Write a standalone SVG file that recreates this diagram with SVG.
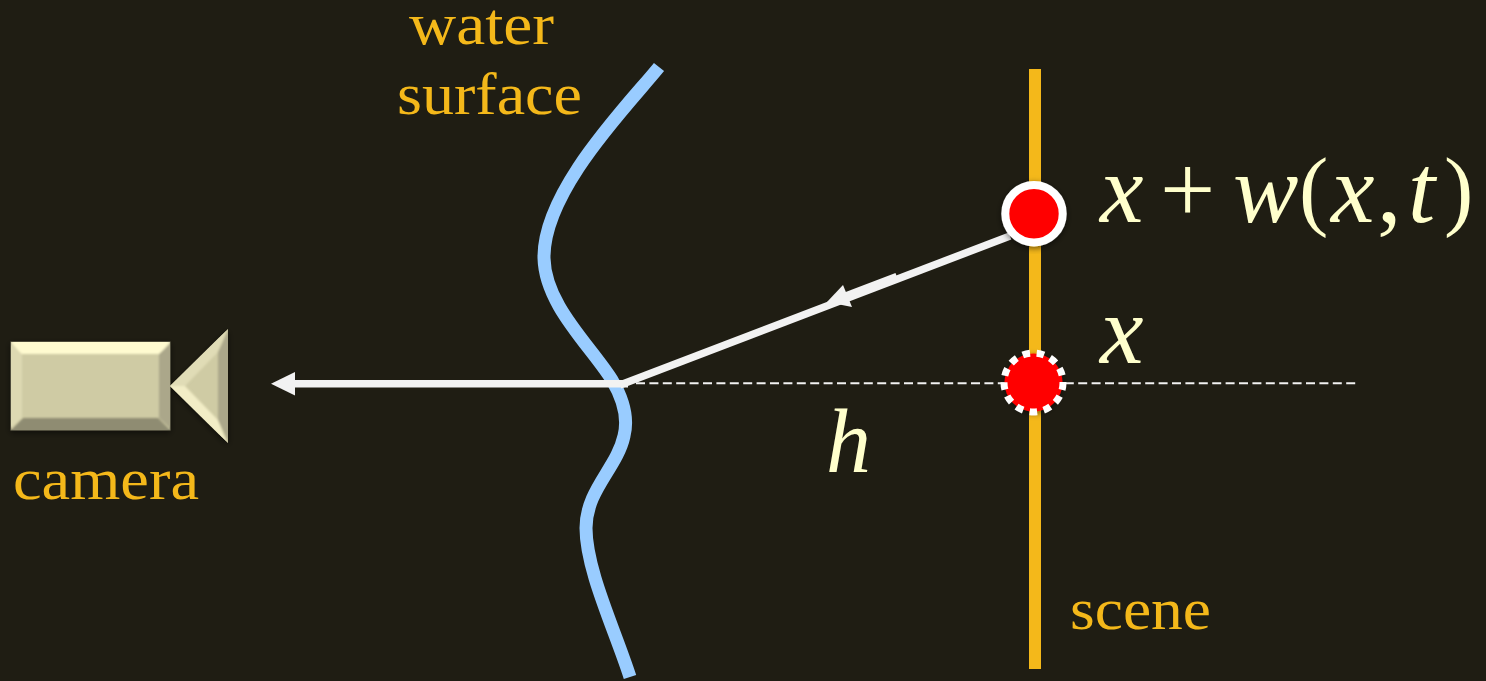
<svg xmlns="http://www.w3.org/2000/svg" width="1486" height="681" viewBox="0 0 1486 681">
<defs>
<style>
.lbl{font-family:"Liberation Serif","DejaVu Serif",serif;font-size:59px;fill:#F4B81A}
.math{font-family:"Liberation Serif","Times New Roman",serif;font-style:italic;fill:#FFFFCC;font-size:98px}
.up{font-style:normal}
.par{font-style:normal;font-size:88px}
.ray{stroke:#F2F2F2;fill:none}
</style>
<filter id="sh" x="-20%" y="-20%" width="140%" height="140%"><feDropShadow dx="0" dy="2" stdDeviation="3" flood-color="#000" flood-opacity=".55"/></filter>
<filter id="soft" x="-10%" y="-10%" width="120%" height="120%"><feGaussianBlur stdDeviation="1.3"/></filter>
<clipPath id="boxclip"><rect x="11" y="342" width="159" height="88"/></clipPath>
<clipPath id="triclip"><polygon points="170,386 228,329 228,443"/></clipPath>
</defs>
<rect width="1486" height="681" fill="#1F1D13"/>
<g id="scene"><rect x="1029" y="69" width="12" height="600" fill="#F4B81A"/><text class="lbl" x="1070" y="629" textLength="141" lengthAdjust="spacingAndGlyphs">scene</text></g>
<g id="water"><path d="M659 67C630 103 543 190 544 258C545 305 590 345 612 380C625 402 628 420 624 436C617 468 586 490 586 528C586 570 615 630 630 677" fill="none" stroke="#99CCFF" stroke-width="13"/>
<text class="lbl" x="409" y="44" textLength="145" lengthAdjust="spacingAndGlyphs">water</text><text class="lbl" x="397" y="114" textLength="185" lengthAdjust="spacingAndGlyphs">surface</text></g>
<g id="camera"><g filter="url(#sh)"><rect x="11" y="342" width="159" height="88" fill="#CFCBA4" stroke="#77755F" stroke-width="1"/>
<g clip-path="url(#boxclip)"><g filter="url(#soft)">
<polygon points="9,340 172,340 160,354 21,354" fill="#FFFBD0"/><polygon points="9,432 172,432 158,418 23,418" fill="#8F8C72"/><polygon points="9,342 22,354 22,418 9,430" fill="#DDD9B2"/><polygon points="172,342 159,354 159,418 172,430" fill="#ABA78A"/></g></g>
<polygon points="170,386 228,329 228,443" fill="#CFCBA4"/>
<g clip-path="url(#triclip)"><g filter="url(#soft)">
<polygon points="167,386 228,326 218,352 185,386" fill="#E0DCB6"/><polygon points="167,386 228,446 218,420 185,386" fill="#F2EDC6"/><polygon points="230,327 230,445 218,420 218,352" fill="#ABA78A"/></g></g></g>
<text class="lbl" x="13" y="499" textLength="186" lengthAdjust="spacingAndGlyphs">camera</text></g>
<g id="connectors">
<path d="M636 383.300H1356" stroke="#F2F2F2" stroke-width="2" stroke-dasharray="9 4.400" fill="none"/>
<path class="ray" stroke-width="7.500" d="M628 383.700H290"/>
<polygon points="271,383.700 295,372 295,395.500" fill="#F2F2F2"/>
<path class="ray" stroke-width="7.500" d="M620 385L1010 236"/>
<path class="ray" stroke-width="8.500" d="M838 299.500L897 277"/>
<polygon points="827,302 843,285 852,307" fill="#F2F2F2"/>
</g>
<g id="point-displaced"><circle cx="1034" cy="213.700" r="28.700" fill="#FF0000" stroke="#fff" stroke-width="8" filter="url(#sh)"/></g>
<g id="point-original"><circle cx="1033.500" cy="382.500" r="29" fill="#FF0000" filter="url(#sh)"/><circle cx="1033.500" cy="382.500" r="29.500" fill="none" stroke="#fff" stroke-width="7" stroke-dasharray="7.500 6.700"/></g>
<g id="labels">
<text class="math" x="1100" y="222">x</text>
<text class="math up" x="1160" y="222">+</text>
<text class="math" x="1233" y="222">w</text>
<text class="math par" x="1299" y="219">(</text>
<text class="math" x="1331" y="222">x</text>
<text class="math up" x="1377" y="222">,</text>
<text class="math" x="1408" y="222">t</text>
<text class="math par" x="1444" y="219">)</text>
<text class="math" x="1100" y="363">x</text>
<text class="math" x="826" y="472" style="font-size:90px">h</text>
</g>
</svg>
